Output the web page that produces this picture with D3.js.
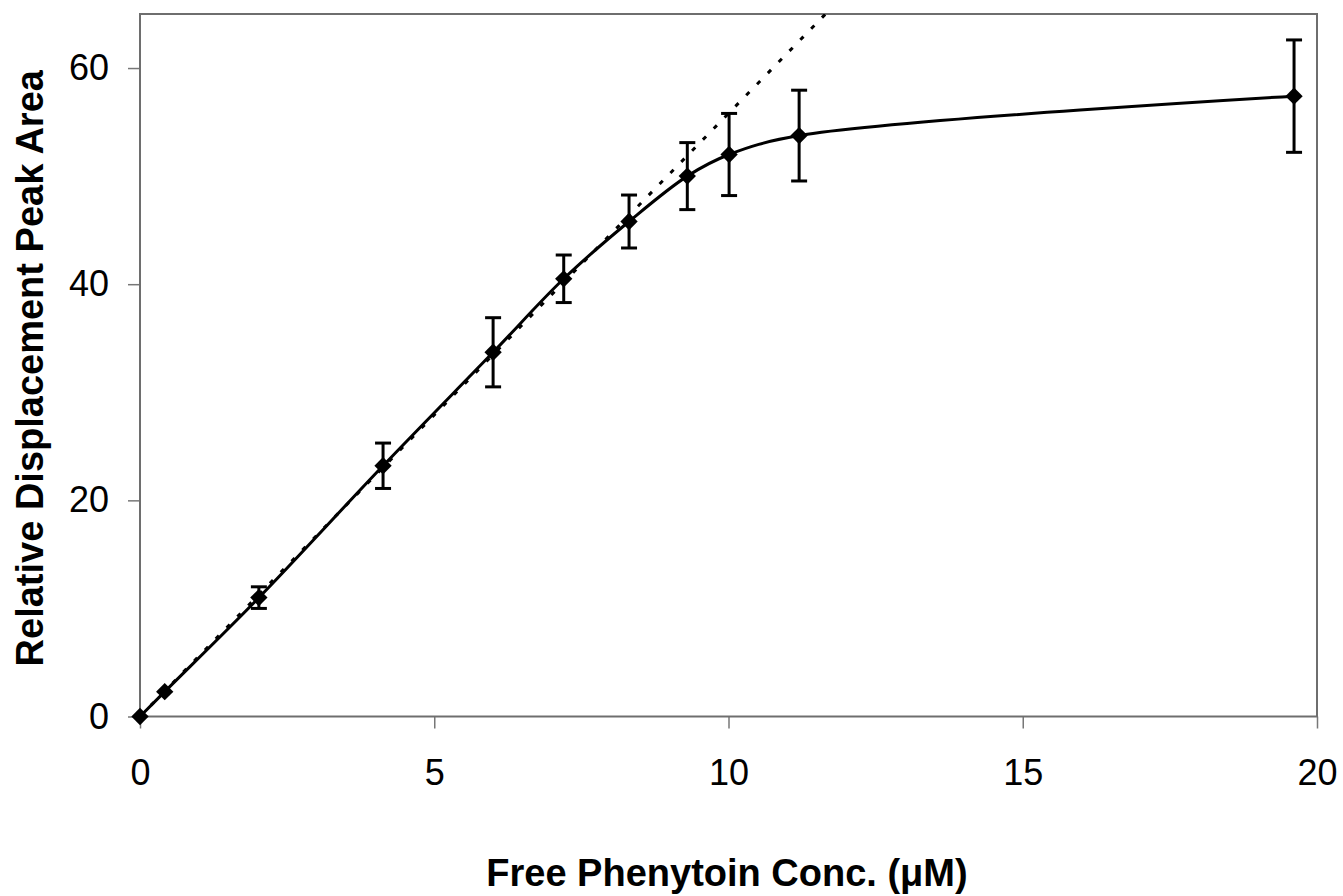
<!DOCTYPE html>
<html lang="en">
<head>
    <meta charset="UTF-8">
    <title>Free Phenytoin vs Relative Displacement Peak Area</title>
    <script src="https://d3js.org/d3.v7.min.js"></script>
    <style>
        body {
            margin: 0;
            background: #fff;
            font-family: "Liberation Sans", Arial, sans-serif;
        }
        svg {
            display: block;
        }
        .axis text {
            font-size: 36px;
            fill: #000;
        }
        .axis line {
            stroke: #777;
            stroke-width: 1.5px;
        }
        .axis-title {
            font-size: 38px;
            font-weight: bold;
        }
    </style>
</head>
<body>
    <svg width="1343" height="896"></svg>
    <script>
        // measured points (free conc in uM, relative peak area, +/- error)
        const conc = [0, 0.42, 2.02, 4.13, 6.0, 7.2, 8.31, 9.3, 10.01, 11.2, 19.61];
        const area = [0, 2.3, 11.0, 23.2, 33.7, 40.5, 45.8, 50.0, 52.0, 53.75, 57.4];
        const err  = [0, 0, 1.0, 2.1, 3.2, 2.2, 2.45, 3.1, 3.8, 4.2, 5.2];

        // linear (dotted) reference line
        const trendX = [0, 12];
        const trendY = [0, 66.96];

        const xTicks = [0, 5, 10, 15, 20];
        const yTicks = [0, 20, 40, 60];

        const svg = d3.select("svg"),
            margin = {top: 14, right: 26, bottom: 179.5, left: 140},
            width = +svg.attr("width") - margin.left - margin.right,
            height = +svg.attr("height") - margin.top - margin.bottom,
            g = svg.append("g").attr("transform", `translate(${margin.left},${margin.top})`);

        const x = d3.scaleLinear().domain([0, 20]).range([0, width]);
        const y = d3.scaleLinear().domain([0, 65]).range([height, 0]);

        const points = conc.map((c, i) => ({x: c, y: area[i], e: err[i]}));
        const trend = trendX.map((t, i) => ({x: t, y: trendY[i]}));

        g.append("clipPath").attr("id", "plot-clip")
            .append("rect").attr("width", width).attr("height", height);

        // axes
        g.append("g")
            .attr("class", "axis")
            .attr("transform", `translate(0,${height})`)
            .call(d3.axisBottom(x).tickValues(xTicks).tickSize(12).tickPadding(31))
            .call(a => a.select(".domain").remove());

        g.append("g")
            .attr("class", "axis")
            .call(d3.axisLeft(y).tickValues(yTicks).tickSize(12).tickPadding(19))
            .call(a => a.select(".domain").remove());

        // plot frame
        g.append("rect")
            .attr("width", width)
            .attr("height", height)
            .attr("fill", "none")
            .attr("stroke", "#6e6e6e")
            .attr("stroke-width", 2);

        const line = d3.line().x(d => x(d.x)).y(d => y(d.y));

        g.append("path")
            .datum(trend)
            .attr("clip-path", "url(#plot-clip)")
            .attr("fill", "none")
            .attr("stroke", "#000")
            .attr("stroke-width", 3)
            .attr("stroke-dasharray", "4.5,11")
            .attr("d", line);

        g.append("path")
            .datum(points)
            .attr("fill", "none")
            .attr("stroke", "#000")
            .attr("stroke-width", 3)
            .attr("d", line.curve(d3.curveCatmullRom.alpha(0.5)));

        // error bars
        const bars = g.append("g")
            .attr("stroke", "#000")
            .attr("stroke-width", 3)
            .selectAll("g")
            .data(points.filter(d => d.e > 0))
            .enter().append("g");

        bars.append("line")
            .attr("x1", d => x(d.x)).attr("x2", d => x(d.x))
            .attr("y1", d => y(d.y - d.e)).attr("y2", d => y(d.y + d.e));
        bars.append("line")
            .attr("x1", d => x(d.x) - 8).attr("x2", d => x(d.x) + 8)
            .attr("y1", d => y(d.y + d.e)).attr("y2", d => y(d.y + d.e));
        bars.append("line")
            .attr("x1", d => x(d.x) - 8).attr("x2", d => x(d.x) + 8)
            .attr("y1", d => y(d.y - d.e)).attr("y2", d => y(d.y - d.e));

        // diamond markers
        g.append("g")
            .selectAll("path")
            .data(points)
            .enter().append("path")
            .attr("transform", d => `translate(${x(d.x)},${y(d.y)}) rotate(45)`)
            .attr("d", d3.symbol(d3.symbolSquare, 150))
            .attr("fill", "#000");

        // axis titles
        svg.append("text")
            .attr("class", "axis-title")
            .attr("x", 727)
            .attr("y", 886)
            .attr("text-anchor", "middle")
            .text("Free Phenytoin Conc. (\u03bcM)");

        svg.append("text")
            .attr("class", "axis-title")
            .attr("transform", `translate(43,${margin.top + height / 2 + 3}) rotate(-90)`)
            .attr("text-anchor", "middle")
            .text("Relative Displacement Peak Area");
    </script>
</body>
</html>
